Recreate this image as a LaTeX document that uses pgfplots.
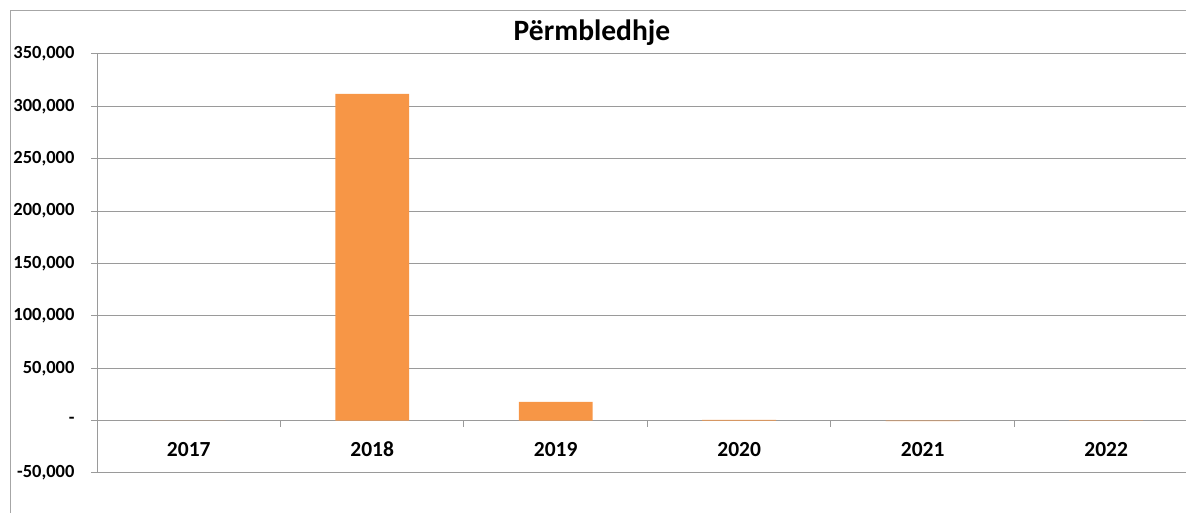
\documentclass[border=0pt]{standalone}
\usepackage{pgfplots}
\pgfplotsset{compat=1.18}
\usepackage{fontspec}
\setmainfont{Carlito}
\definecolor{barorange}{HTML}{F79646}
\definecolor{gridgray}{HTML}{9A9A9A}
\definecolor{bordergray}{HTML}{A6A6A6}
\begin{document}
\begin{tikzpicture}
\begin{scope}
\clip (0,0) rectangle (1186pt,513pt);
\draw[color=bordergray, line width=1pt] (10pt,-20pt) rectangle (1215pt,502pt);
\node[font=\fontsize{29.5}{33}\selectfont\bfseries] at (592pt,480pt) {Përmbledhje};
\begin{axis}[
  at={(97pt,40pt)}, anchor=south west,
  scale only axis, width=1101pt, height=419pt,
  xmin=-0.5, xmax=5.5, ymin=-50000, ymax=350000,
  axis x line=middle, axis y line=left,
  axis line style={-, draw=gridgray, line width=1pt},
  tick align=outside,
  major tick length=6pt,
  ytick={-50000,0,50000,100000,150000,200000,250000,300000,350000},
  yticklabels={{-50,000},{-\hspace{10pt}},{50,000},{100,000},{150,000},{200,000},{250,000},{300,000},{350,000}},
  yticklabel style={font=\fontsize{18.5}{21}\selectfont\bfseries, anchor=east, xshift=-13pt},
  ytick style={draw=gridgray, line width=1pt},
  ymajorgrids, grid style={draw=gridgray, line width=1pt},
  xtick={0.5,1.5,2.5,3.5,4.5},
  xticklabels={},
  xtick style={draw=gridgray, line width=1pt},
  extra x ticks={0,1,2,3,4,5},
  extra x tick labels={2017,2018,2019,2020,2021,2022},
  extra x tick style={major tick length=0pt, grid=none,
    xticklabel style={font=\fontsize{21.5}{24}\selectfont\bfseries, anchor=base, yshift=-36pt}},
  scaled y ticks=false,
  clip=false,
]
\addplot[ybar, bar width=0.403, fill=barorange, draw=none]
  coordinates {(0,0) (1,312000) (2,18000) (3,600) (4,-500) (5,200)};
\end{axis}
\end{scope}
\pgfresetboundingbox
\path[use as bounding box] (0,0) rectangle (1186pt,513pt);
\end{tikzpicture}
\end{document}
